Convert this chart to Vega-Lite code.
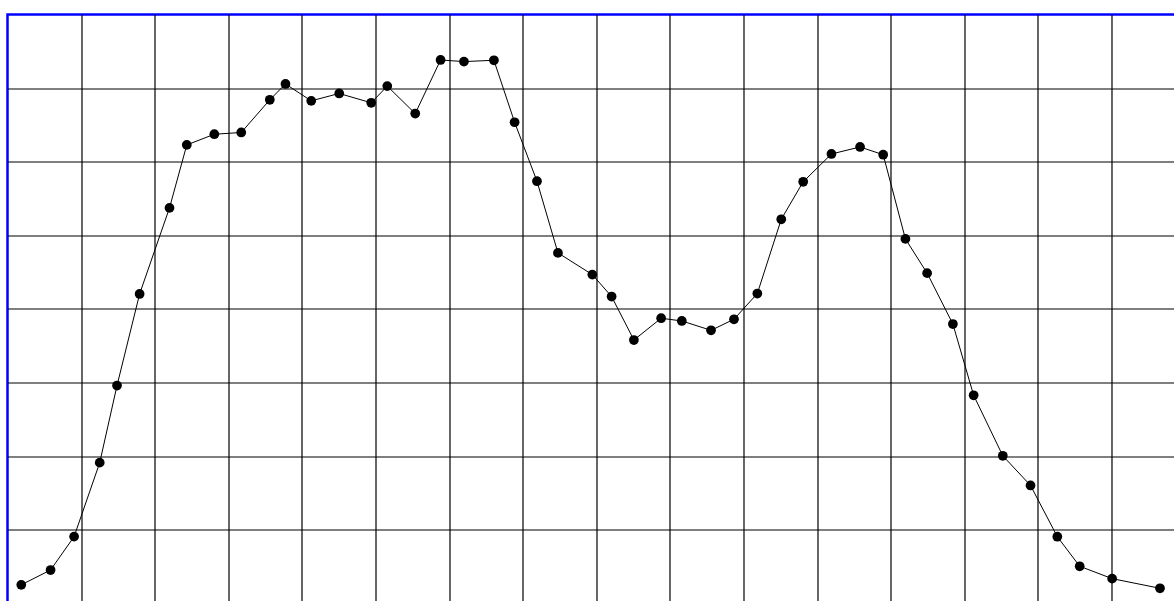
{
  "$schema": "https://vega.github.io/schema/vega-lite/v6.json",
  "autosize": {"type": "none"},
  "padding": {"left": 7.5, "top": 14.5, "right": 0, "bottom": 0},
  "width": 1177.6,
  "height": 588.8,
  "background": "white",
  "config": {
    "view": {"stroke": "#0000ff", "strokeWidth": 2.5},
    "axis": {"labels": false, "ticks": false, "domain": false, "title": null, "grid": true, "gridColor": "#000000", "gridOpacity": 1, "gridWidth": 1.2}
  },
  "data": {"values": [
    {"t": 0.187, "v": 0.251},
    {"t": 0.585, "v": 0.452},
    {"t": 0.905, "v": 0.906},
    {"t": 1.253, "v": 1.911},
    {"t": 1.488, "v": 2.959},
    {"t": 1.795, "v": 4.203},
    {"t": 2.201, "v": 5.372},
    {"t": 2.436, "v": 6.228},
    {"t": 2.810, "v": 6.373},
    {"t": 3.176, "v": 6.397},
    {"t": 3.564, "v": 6.841},
    {"t": 3.777, "v": 7.056},
    {"t": 4.127, "v": 6.827},
    {"t": 4.507, "v": 6.927},
    {"t": 4.942, "v": 6.800},
    {"t": 5.160, "v": 7.027},
    {"t": 5.540, "v": 6.654},
    {"t": 5.884, "v": 7.382},
    {"t": 6.202, "v": 7.360},
    {"t": 6.609, "v": 7.378},
    {"t": 6.890, "v": 6.536},
    {"t": 7.194, "v": 5.735},
    {"t": 7.479, "v": 4.761},
    {"t": 7.946, "v": 4.466},
    {"t": 8.208, "v": 4.168},
    {"t": 8.511, "v": 3.577},
    {"t": 8.881, "v": 3.873},
    {"t": 9.162, "v": 3.836},
    {"t": 9.559, "v": 3.709},
    {"t": 9.871, "v": 3.859},
    {"t": 10.188, "v": 4.209},
    {"t": 10.513, "v": 5.218},
    {"t": 10.811, "v": 5.727},
    {"t": 11.195, "v": 6.105},
    {"t": 11.584, "v": 6.200},
    {"t": 11.898, "v": 6.095},
    {"t": 12.200, "v": 4.951},
    {"t": 12.495, "v": 4.486},
    {"t": 12.845, "v": 3.794},
    {"t": 13.127, "v": 2.826},
    {"t": 13.523, "v": 2.004},
    {"t": 13.900, "v": 1.601},
    {"t": 14.264, "v": 0.905},
    {"t": 14.568, "v": 0.503},
    {"t": 15.009, "v": 0.335},
    {"t": 15.659, "v": 0.204}
  ]},
  "encoding": {
    "x": {"field": "t", "type": "quantitative", "scale": {"domain": [0, 16], "nice": false, "zero": false}, "axis": {"values": [1,2,3,4,5,6,7,8,9,10,11,12,13,14,15]}},
    "y": {"field": "v", "type": "quantitative", "scale": {"domain": [0, 8], "nice": false, "zero": false}, "axis": {"values": [1,2,3,4,5,6,7]}}
  },
  "layer": [
    {"mark": {"type": "line", "color": "#000000", "strokeWidth": 1}},
    {"mark": {"type": "point", "filled": true, "shape": "circle", "color": "#000000", "opacity": 1, "size": 95}}
  ]
}
